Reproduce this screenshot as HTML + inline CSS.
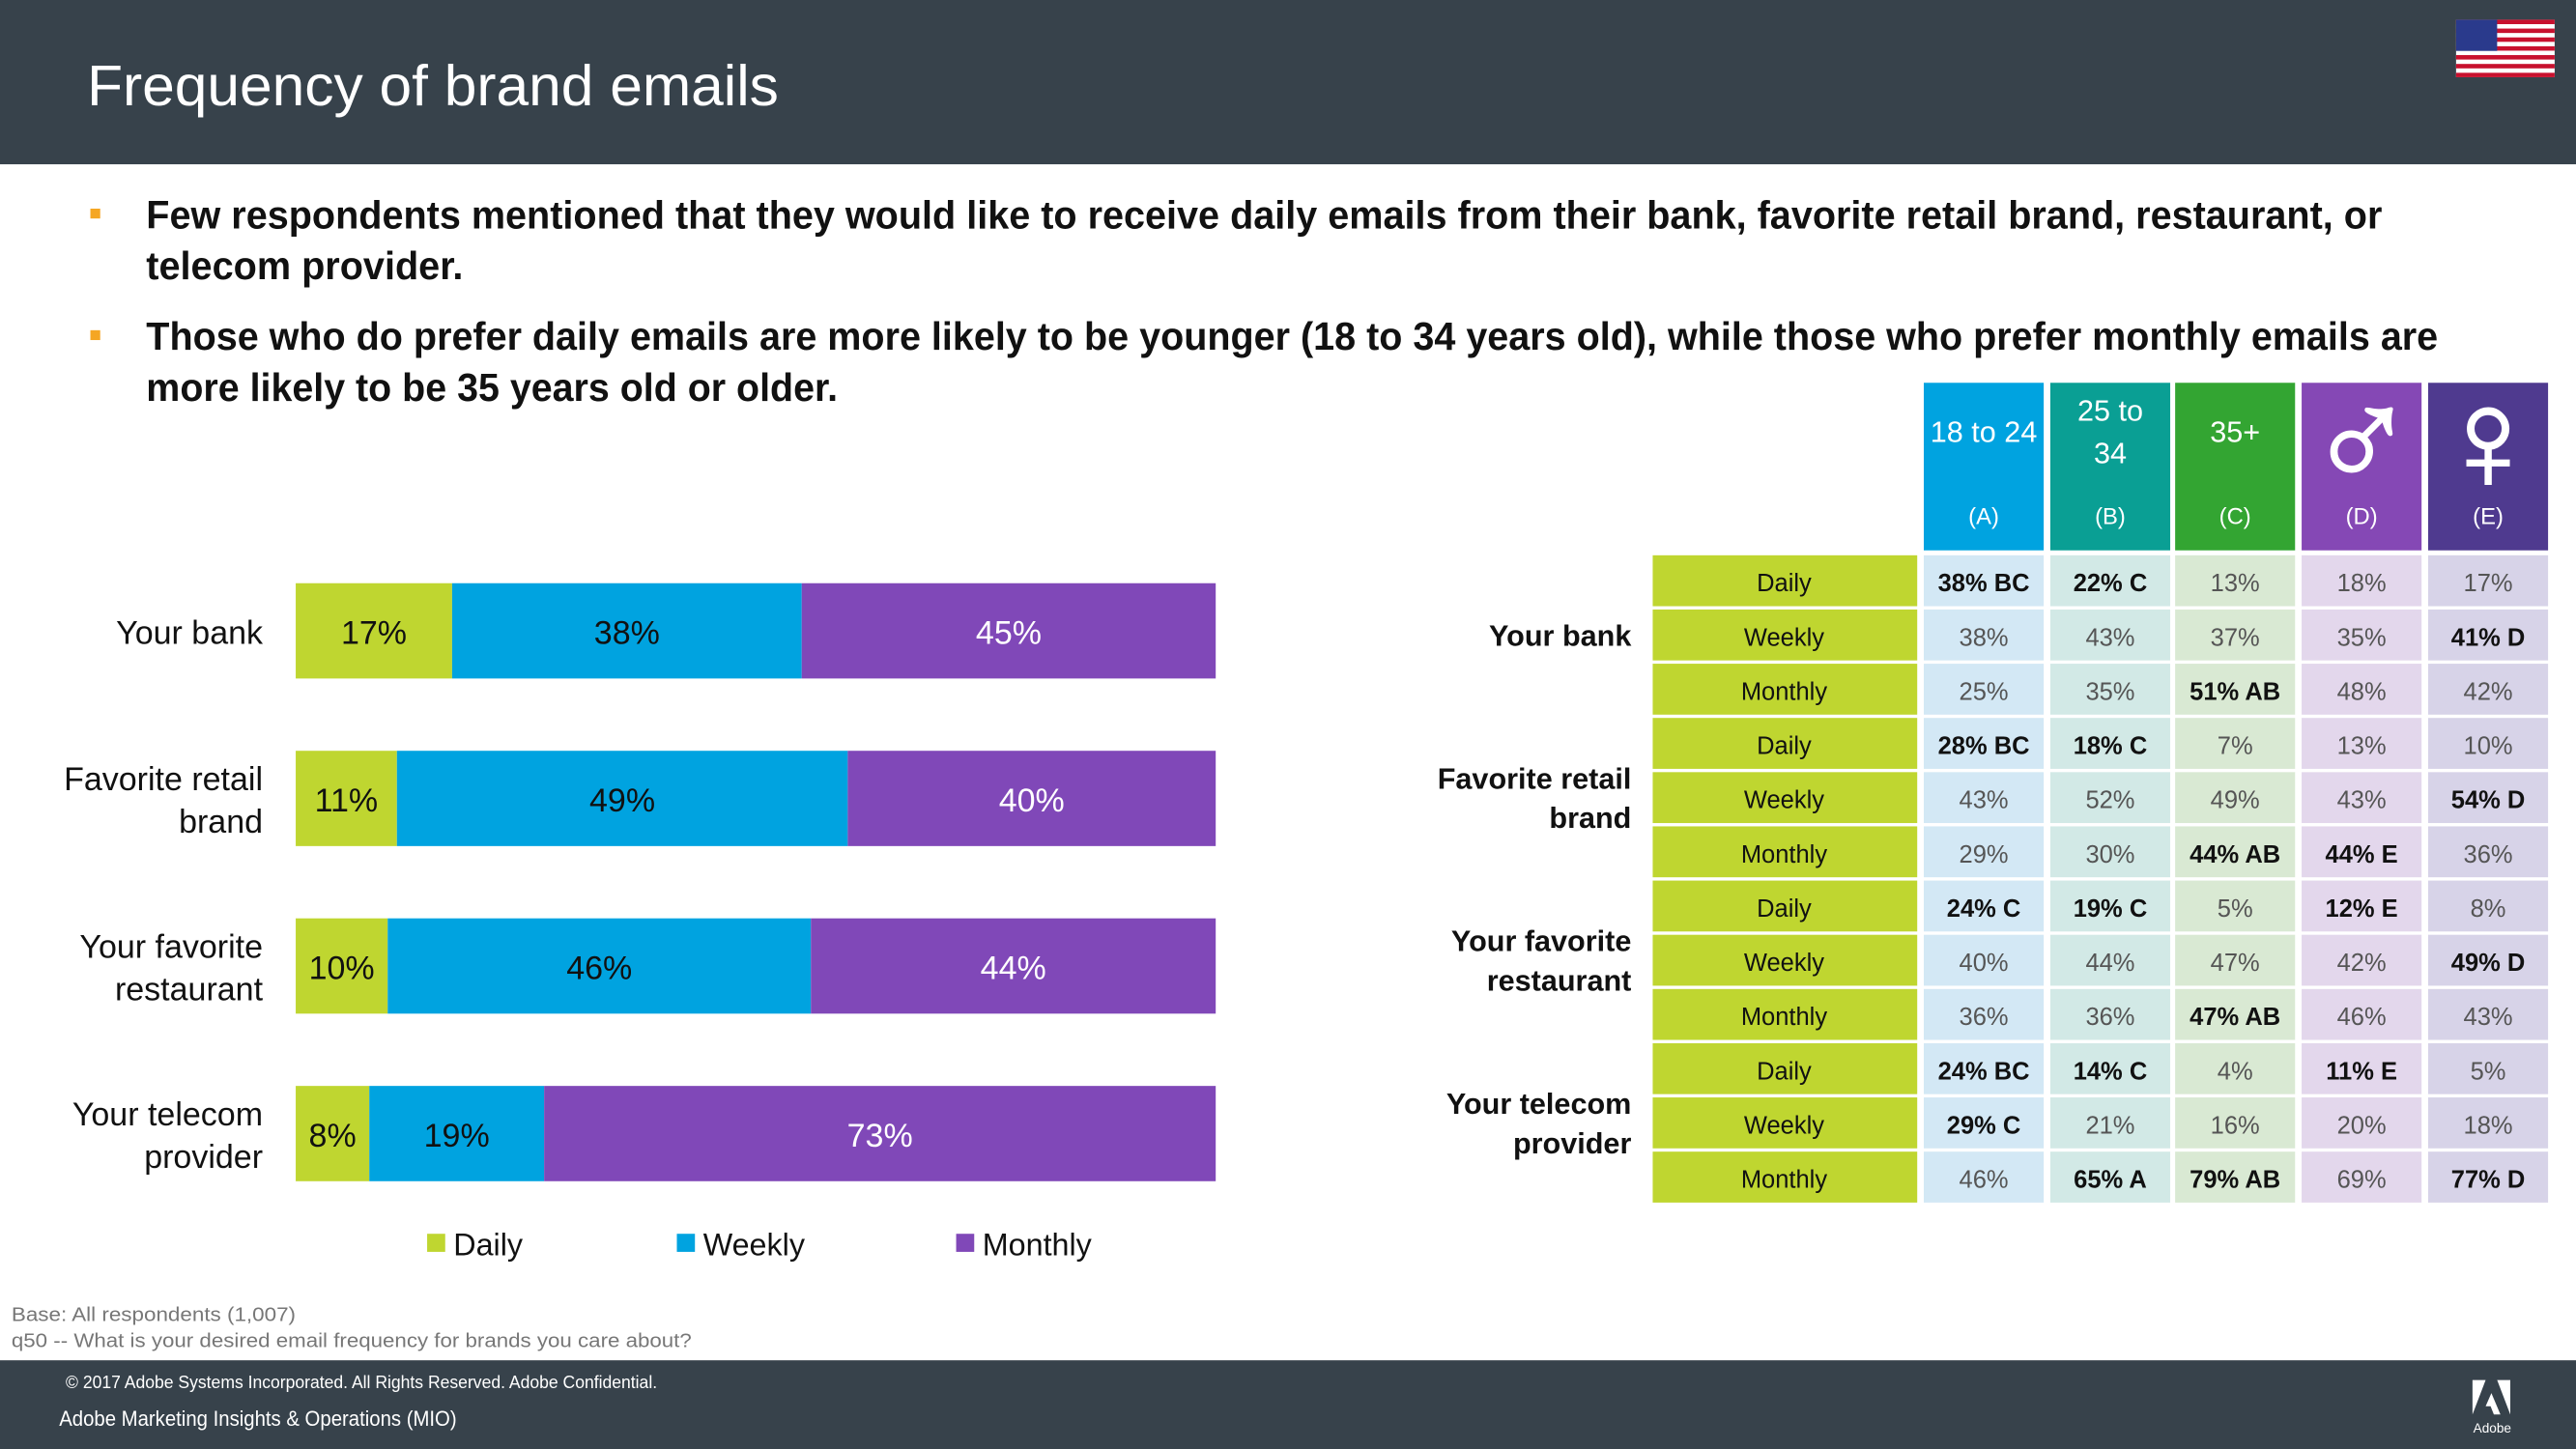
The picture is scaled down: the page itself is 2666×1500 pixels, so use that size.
<!DOCTYPE html>
<html><head><meta charset="utf-8"><style>
html,body{margin:0;padding:0;background:#fff;width:2666px;height:1500px;overflow:hidden}
svg{display:block}
text{font-family:"Liberation Sans",sans-serif}
</style></head><body>
<svg id="root" width="2666" height="1500" viewBox="0 0 1568 882" preserveAspectRatio="none" xmlns="http://www.w3.org/2000/svg">
<rect x="0" y="0" width="1568" height="100" fill="#37424b"/>
<text x="53" y="64" font-size="35" fill="#fff" textLength="421" lengthAdjust="spacingAndGlyphs">Frequency of brand emails</text>
<g>
<rect x="1495" y="12" width="60" height="35" fill="#fff"/>
<g id="stripes"></g>
<rect x="1495" y="12" width="25" height="19" fill="#2a3a8c"/>
</g>
<g font-weight="bold" fill="#111">
<rect x="55" y="127" width="6" height="6" fill="#f5a623"/>
<text x="89" y="139" font-size="24" textLength="1361" lengthAdjust="spacingAndGlyphs">Few respondents mentioned that they would like to receive daily emails from their bank, favorite retail brand, restaurant, or</text>
<text x="89" y="170" font-size="24" textLength="193" lengthAdjust="spacingAndGlyphs">telecom provider.</text>
<rect x="55" y="201" width="6" height="6" fill="#f5a623"/>
<text x="89" y="213" font-size="24" textLength="1395" lengthAdjust="spacingAndGlyphs">Those who do prefer daily emails are more likely to be younger (18 to 34 years old), while those who prefer monthly emails are</text>
<text x="89" y="244" font-size="24" textLength="421" lengthAdjust="spacingAndGlyphs">more likely to be 35 years old or older.</text>
</g>
<g id="chart"></g>
<g id="table"></g>
<text x="7" y="804" font-size="12" fill="#777" textLength="173" lengthAdjust="spacingAndGlyphs">Base: All respondents (1,007)</text>
<text x="7" y="820" font-size="12" fill="#777" textLength="414" lengthAdjust="spacingAndGlyphs">q50 -- What is your desired email frequency for brands you care about?</text>
<rect x="0" y="828" width="1568" height="54" fill="#37424b"/>
<text x="40" y="845" font-size="11" fill="#fff" textLength="360" lengthAdjust="spacingAndGlyphs">© 2017 Adobe Systems Incorporated.  All Rights Reserved.  Adobe Confidential.</text>
<text x="36" y="868" font-size="13" fill="#fff" textLength="242" lengthAdjust="spacingAndGlyphs">Adobe Marketing Insights &amp; Operations (MIO)</text>
<g fill="#fff">
<polygon points="1505,840 1513,840 1505,861"/>
<polygon points="1520,840 1528,840 1528,861"/>
<polygon points="1516.5,848 1522,861 1518,861 1516,856 1513,856"/>
<text x="1517" y="872" font-size="8" text-anchor="middle">Adobe</text>
</g>
</svg>
<script>
const NS="http://www.w3.org/2000/svg";
function mk(tag,attrs,parent,txt){const e=document.createElementNS(NS,tag);for(const k in attrs)e.setAttribute(k,attrs[k]);if(txt!==undefined)e.textContent=txt;parent.appendChild(e);return e;}
const st=document.getElementById('stripes');
for(let i=0;i<13;i+=2){mk('rect',{x:1495,y:12+i*35/13,width:60,height:35/13,fill:'#c8102e'},st);}

// ---- bar chart data ----
const categories=["Your bank","Favorite retail brand","Your favorite restaurant","Your telecom provider"];
const dailyValues=[17,11,10,8];
const weeklyValues=[38,49,46,19];
const monthlyValues=[45,40,44,73];
const seriesNames=["Daily","Weekly","Monthly"];

const chart=document.getElementById('chart');
const X0=180,X1=740;
function xScale(v){return X0+(X1-X0)*v/100;}
function yBand(i){return 355+i*102;}
const BH=58;
const colors=["#bfd630","#00a3e0","#8048b8"];
const labelColors=["#111","#111","#fff"];
const catLines=[["Your bank"],["Favorite retail","brand"],["Your favorite","restaurant"],["Your telecom","provider"]];
categories.forEach((c,i)=>{
  const vals=[dailyValues[i],weeklyValues[i],monthlyValues[i]];
  let cum=0;
  const y=yBand(i);
  vals.forEach((v,s)=>{
    const r=mk('rect',{x:xScale(cum),y:y,width:xScale(cum+v)-xScale(cum),height:BH,fill:colors[s]},chart);
    
    
    const t=mk('text',{x:(xScale(cum)+xScale(cum+v))/2,y:y+BH/2+8,'font-size':20,'text-anchor':'middle',fill:labelColors[s]},chart,v+'%');
    
    
    cum+=v;
  });
  const lines=catLines[i];
  lines.forEach((ln,k)=>{
    const yy=y+BH/2+8+(k-(lines.length-1)/2)*26;
    const t=mk('text',{x:160,y:yy,'font-size':20,'text-anchor':'end',fill:'#111'},chart,ln);
    
    
  });
});
const legendX=[260,412,582];
seriesNames.forEach((n,s)=>{
  const g=mk('g',{},chart);
  
  
  mk('rect',{x:legendX[s],y:751,width:11,height:11,fill:colors[s]},g);
  mk('text',{x:legendX[s]+16,y:764,'font-size':19,fill:'#111'},g,n);
});

// ---- table data ----
const colHeaders=["18 to 24","25 to 34","35+","♂","♀"];
const colLetters=["(A)","(B)","(C)","(D)","(E)"];
const groups=["Your bank","Favorite retail brand","Your favorite restaurant","Your telecom provider"];
const rowTypes=["Daily","Weekly","Monthly"];
const tableValues=[
 ["38% BC","22% C","13%","18%","17%"],
 ["38%","43%","37%","35%","41% D"],
 ["25%","35%","51% AB","48%","42%"],
 ["28% BC","18% C","7%","13%","10%"],
 ["43%","52%","49%","43%","54% D"],
 ["29%","30%","44% AB","44% E","36%"],
 ["24% C","19% C","5%","12% E","8%"],
 ["40%","44%","47%","42%","49% D"],
 ["36%","36%","47% AB","46%","43%"],
 ["24% BC","14% C","4%","11% E","5%"],
 ["29% C","21%","16%","20%","18%"],
 ["46%","65% A","79% AB","69%","77% D"]];

const tb=document.getElementById('table');
const colX=[1171,1248,1324,1401,1478];
const CW=73;
const headColors=["#00a3e0","#0a9f94","#33a532","#8548b5","#4f3a8f"];
const cellColors=["#d3e8f5","#d2e9e6","#d9e9d3","#e3d7ec","#d7d3e8"];
colHeaders.forEach((h,c)=>{
  const g=mk('g',{},tb);
  
  
  mk('rect',{x:colX[c],y:233,width:CW,height:102,fill:headColors[c]},g);
  const cx=colX[c]+CW/2;
  if(c===1){
    mk('text',{x:cx,y:256,'font-size':18,'text-anchor':'middle',fill:'#fff'},g,"25 to");
    mk('text',{x:cx,y:282,'font-size':18,'text-anchor':'middle',fill:'#fff'},g,"34");
  } else if(c>=3){
    mk('text',{x:cx,y:298,'font-size':88,'text-anchor':'middle',fill:'#fff',stroke:'#fff','stroke-width':1.2,'font-family':'DejaVu Sans, sans-serif'},g,h);
  } else {
    mk('text',{x:cx,y:269,'font-size':18,'text-anchor':'middle',fill:'#fff'},g,h);
  }
  mk('text',{x:cx,y:319,'font-size':14,'text-anchor':'middle',fill:'#fff'},g,colLetters[c]);
});
function rowY(r){return 338+r*33;}
tableValues.forEach((row,r)=>{
  const y=rowY(r);
  const lab=mk('g',{},tb);
  
  
  mk('rect',{x:1006,y:y,width:161,height:31,fill:'#bfd630'},lab);
  mk('text',{x:1086,y:y+22,'font-size':15,'text-anchor':'middle',fill:'#111'},lab,rowTypes[r%3]);
  row.forEach((v,c)=>{
    const g=mk('g',{},tb);
    
    
    mk('rect',{x:colX[c],y:y,width:CW,height:31,fill:cellColors[c]},g);
    const bold=/[A-E]/.test(v);
    mk('text',{x:colX[c]+CW/2,y:y+22,'font-size':15,'text-anchor':'middle',fill:bold?'#111':'#555','font-weight':bold?'bold':'normal'},g,v);
  });
});
const groupLines=[["Your bank"],["Favorite retail","brand"],["Your favorite","restaurant"],["Your telecom","provider"]];
groups.forEach((gname,i)=>{
  const mid=rowY(i*3+1)+15;
  const lines=groupLines[i];
  lines.forEach((ln,k)=>{
    const t=mk('text',{x:993,y:mid+7+(k-(lines.length-1)/2)*24,'font-size':18,'text-anchor':'end','font-weight':'bold',fill:'#111'},tb,ln);
    
    
  });
});
</script>
</body></html>
